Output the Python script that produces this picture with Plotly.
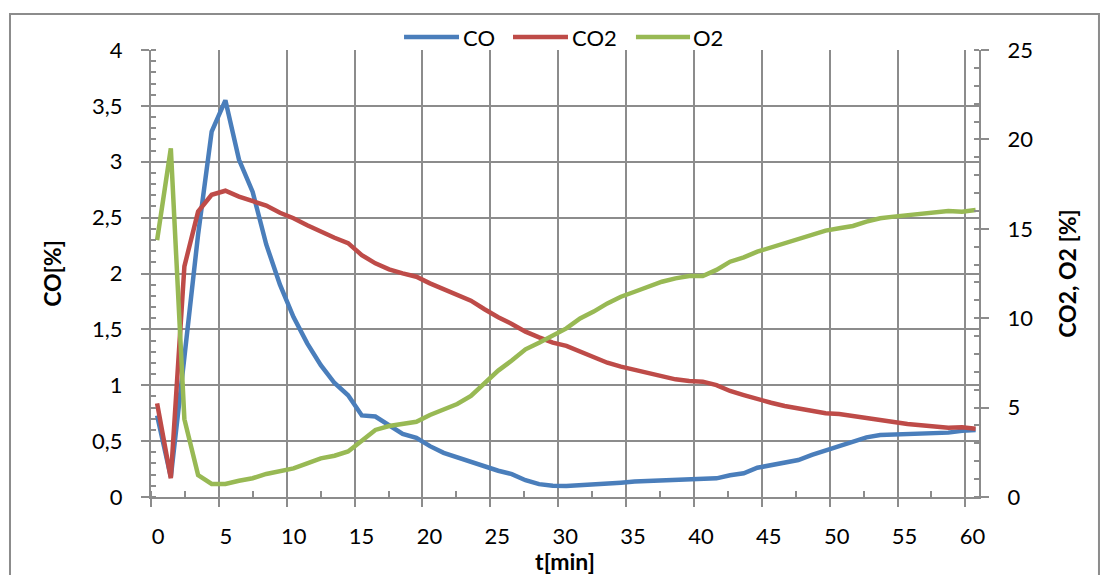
import plotly.graph_objects as go

# Measurement times [min]
t_min = [0.45, 1.46, 2.46, 3.47, 4.47, 5.48, 6.48, 7.49, 8.49, 9.5,
         10.5, 11.51, 12.51, 13.52, 14.52, 15.53, 16.53, 17.54, 18.54, 19.55,
         20.55, 21.56, 22.56, 23.57, 24.57, 25.58, 26.58, 27.59, 28.59, 29.6,
         30.6, 31.61, 32.61, 33.62, 34.62, 35.63, 36.63, 37.64, 38.64, 39.65,
         40.65, 41.66, 42.66, 43.67, 44.67, 45.68, 46.68, 47.69, 48.69, 49.7,
         50.7, 51.71, 52.71, 53.72, 54.72, 55.73, 56.73, 57.74, 58.74, 59.75,
         60.75]

# CO concentration [%] (left axis)
co = [0.73, 0.18, 1.25, 2.35, 3.27, 3.55, 3.02, 2.73, 2.26, 1.9,
      1.61, 1.375, 1.18, 1.02, 0.91, 0.73, 0.72, 0.645, 0.565, 0.53,
      0.455, 0.395, 0.355, 0.31, 0.27, 0.235, 0.205, 0.15, 0.115, 0.10,
      0.098, 0.104, 0.112, 0.12, 0.128, 0.138, 0.143, 0.148, 0.152, 0.155,
      0.158, 0.167, 0.195, 0.212, 0.262, 0.286, 0.307, 0.331, 0.376, 0.414,
      0.45, 0.495, 0.534, 0.555, 0.561, 0.561, 0.57, 0.576, 0.576, 0.593,
      0.6]

# CO2 concentration [%] (right axis)
co2 = [5.24, 1.05, 12.9, 15.96, 16.9, 17.13, 16.8, 16.57, 16.3, 15.9,
       15.59, 15.2, 14.84, 14.5, 14.2, 13.53, 13.07, 12.73, 12.51, 12.32,
       11.95, 11.62, 11.34, 10.98, 10.5, 10.05, 9.68, 9.25, 8.93, 8.63,
       8.45, 8.13, 7.85, 7.51, 7.29, 7.1, 6.92, 6.73, 6.58, 6.49,
       6.45, 6.26, 5.93, 5.7, 5.46, 5.27, 5.09, 4.96, 4.77, 4.68,
       4.64, 4.53, 4.36, 4.25, 4.18, 4.08, 4.01, 3.93, 3.88, 3.9,
       3.82]

# O2 concentration [%] (right axis)
o2 = [14.37, 19.5, 4.35, 1.23, 0.73, 0.73, 0.91, 1.05, 1.29, 1.47,
      1.6, 1.88, 2.16, 2.31, 2.55, 3.15, 3.75, 3.97, 4.08, 4.21,
      4.59, 4.92, 5.2, 5.65, 6.36, 7.07, 7.63, 8.26, 8.63, 9.06,
      9.43, 9.99, 10.37, 10.83, 11.2, 11.48, 11.76, 12.04, 12.23, 12.36,
      12.36, 12.7, 13.16, 13.4, 13.72, 13.96, 14.22, 14.41, 14.65, 14.9,
      15.03, 15.16, 15.4, 15.59, 15.68, 15.77, 15.87, 15.96, 16.0, 15.96,
      16.05]

series_names = ["CO", "CO2", "O2"]
colors = ["#4A7EBB", "#BE4B48", "#98B954"]

FONT = "Lato"
GRID = "#8c8c8c"

fig = go.Figure()
fig.add_trace(go.Scatter(x=t_min, y=co, name=series_names[0], mode="lines",
                         line=dict(color=colors[0], width=4.5), yaxis="y"))
fig.add_trace(go.Scatter(x=t_min, y=co2, name=series_names[1], mode="lines",
                         line=dict(color=colors[1], width=4.5), yaxis="y2"))
fig.add_trace(go.Scatter(x=t_min, y=o2, name=series_names[2], mode="lines",
                         line=dict(color=colors[2], width=4.5), yaxis="y2"))

axis_common = dict(
    showline=True, linecolor=GRID, linewidth=2,
    ticks="outside", ticklen=8, tickwidth=2, tickcolor=GRID,
    zeroline=False, automargin=False,
    tickfont=dict(family=FONT, size=22, color="black"),
)

fig.update_layout(
    width=1101, height=575,
    margin=dict(l=151, r=122, t=50, b=78),
    paper_bgcolor="white", plot_bgcolor="white",
    separators=", ",
    showlegend=False,
    font=dict(family=FONT, color="black"),
    xaxis=dict(
        **axis_common,
        range=[0, 61], dtick=5, tick0=0,
        showgrid=True, gridcolor=GRID, gridwidth=2,
        minor=dict(ticks="inside", ticklen=6, tickwidth=2, tickcolor=GRID,
                   dtick=2.5, tick0=0, showgrid=False),
        ticklabelshift=7, ticklabelstandoff=11,
        title=dict(text="<b>t[min]</b>", font=dict(family=FONT, size=23),
                   standoff=4),
    ),
    yaxis=dict(
        **axis_common,
        range=[0, 4], dtick=0.5, tick0=0,
        showgrid=True, gridcolor=GRID, gridwidth=2,
        minor=dict(ticks="inside", ticklen=5, tickwidth=2, tickcolor=GRID,
                   dtick=0.1, tick0=0, showgrid=False),
        ticklabelstandoff=14,
        title=dict(text="<b>CO[%]</b>", font=dict(family=FONT, size=23),
                   standoff=24),
    ),
    yaxis2=dict(
        **axis_common,
        overlaying="y", side="right",
        range=[0, 25], dtick=5, tick0=0,
        showgrid=False,
        minor=dict(ticks="inside", ticklen=5, tickwidth=2, tickcolor=GRID,
                   dtick=1, tick0=0, showgrid=False),
        ticklabelstandoff=14,
        title=dict(text="<b>CO2, O2 [%]</b>", font=dict(family=FONT, size=23),
                   standoff=28),
    ),
)

# Outer chart frame (its lower edge runs past the bottom of the page)
fig.add_shape(type="rect", xref="paper", yref="paper",
              x0=-0.1703, x1=1.1449, y0=-0.25, y1=1.0805,
              line=dict(color=GRID, width=2), fillcolor="rgba(0,0,0,0)",
              layer="below")

# Legend row above the plot: line sample followed by label
legend_line_x = [(0.3056, 0.372), (0.4372, 0.5036), (0.5857, 0.651)]
legend_text_x = [0.3768, 0.5090, 0.6546]
legend_y = 1.029
for name, color, (lx0, lx1), tx in zip(series_names, colors, legend_line_x, legend_text_x):
    fig.add_shape(type="line", xref="paper", yref="paper",
                  x0=lx0, x1=lx1, y0=legend_y, y1=legend_y,
                  line=dict(color=color, width=4.5))
    fig.add_annotation(xref="paper", yref="paper", x=tx, y=legend_y,
                       text=name, showarrow=False, xanchor="left",
                       yanchor="middle", xshift=-2,
                       font=dict(family=FONT, size=22, color="black"))

fig.write_html("out.html")
